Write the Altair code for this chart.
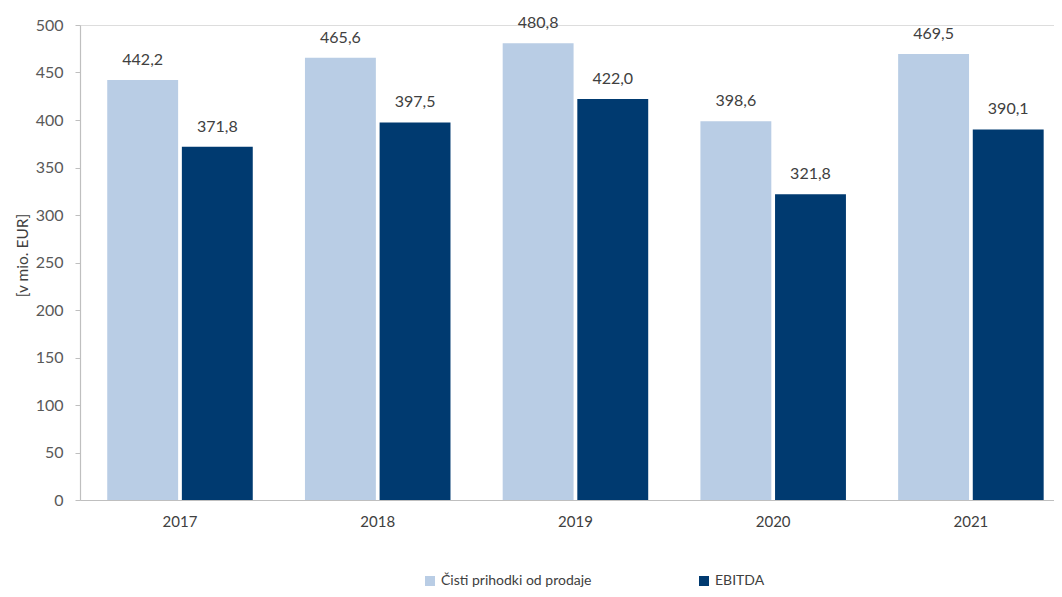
import altair as alt
import pandas as pd

years = ["2017", "2018", "2019", "2020", "2021"]
revenue = [442.2, 465.6, 480.8, 398.6, 469.5]
ebitda = [371.8, 397.5, 422.0, 321.8, 390.1]
series = ["Čisti prihodki od prodaje", "EBITDA"]
colors = ["#b9cde5", "#003a70"]

rows = []
for i, y in enumerate(years):
    for s, v in zip(series, [revenue[i], ebitda[i]]):
        rows.append({"year": y, "series": s, "value": v,
                     "label": f"{v:.1f}".replace(".", ",")})
df = pd.DataFrame(rows)

FONT = "Lato"

x_enc = alt.X("year:N", title=None,
              scale=alt.Scale(paddingInner=0.264, paddingOuter=0.095, align=0.725),
              axis=alt.Axis(labelAngle=0, ticks=False, tickSize=0, labelPadding=14,
                            labelFontSize=15, labelColor="#404040", labelFont=FONT,
                            domainColor="#bfbfbf", domainWidth=1.2))
xoff = alt.XOffset("series:N", sort=series, scale=alt.Scale(paddingInner=0.05))

bars = alt.Chart(df).mark_bar().encode(
    x=x_enc,
    xOffset=xoff,
    y=alt.Y("value:Q", title="[v mio. EUR]",
            scale=alt.Scale(domain=[0, 500], nice=False),
            axis=alt.Axis(values=list(range(0, 501, 50)), grid=False, tickSize=5,
                          labelPadding=12, labelFontSize=16, labelColor="#595959",
                          labelFont=FONT, tickColor="#bfbfbf", domainColor="#bfbfbf",
                          domainWidth=1.2, titleFont=FONT, titleFontSize=15.5,
                          titleFontWeight="normal", titleColor="#404040",
                          titleX=-58, titleY=230, titleBaseline="middle")),
    color=alt.Color("series:N", sort=series,
                    scale=alt.Scale(domain=series, range=colors),
                    legend=alt.Legend(title=None, orient="none", legendX=343, legendY=549,
                                      direction="horizontal", symbolType="square",
                                      symbolSize=100, symbolStrokeWidth=0,
                                      labelFont=FONT, labelFontSize=14,
                                      labelColor="#404040", columnPadding=105,
                                      labelOffset=4)),
)

text = alt.Chart(df).mark_text(baseline="bottom", dy=-12, fontSize=16, font=FONT,
                               color="#404040").encode(
    x=alt.X("year:N"),
    xOffset=xoff,
    y=alt.Y("value:Q"),
    text="label:N",
)

chart = alt.layer(bars, text).properties(
    width=974, height=475,
    autosize=alt.AutoSizeParams(type="none"),
    padding={"left": 72, "top": 17, "right": 0, "bottom": 89},
).configure_view(stroke=None).configure(background="white")

chart.save("out.html", embed_options={"renderer": "svg", "actions": False})
